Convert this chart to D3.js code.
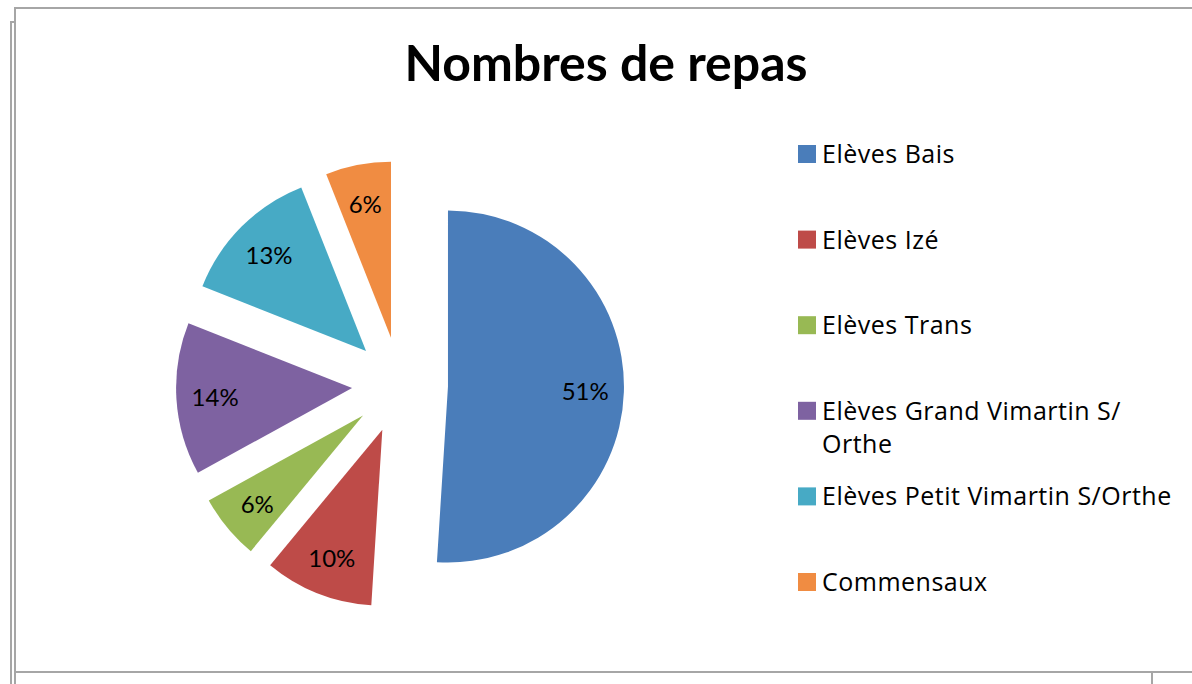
<!DOCTYPE html>
<html>
<head>
<meta charset="utf-8">
<script src="https://cdn.jsdelivr.net/npm/d3@7"></script>
<style>
  html, body { margin: 0; padding: 0; background: #fff; }
  svg { display: block; font-family: Lato, "Open Sans", sans-serif; }
</style>
</head>
<body>
<svg id="chart" width="1192" height="684"></svg>
<script>
// ─── DATA ─────────────────────────────────────────────────────────────────────
const title = 'Nombres de repas';
const categories = [
  'Elèves Bais',
  'Elèves Izé',
  'Elèves Trans',
  'Elèves Grand Vimartin S/\nOrthe',
  'Elèves Petit Vimartin S/Orthe',
  'Commensaux',
];
const values = [51, 10, 6, 14, 13, 6];
const colors = ['#4a7dba', '#be4b48', '#98b954', '#7e62a1', '#47aac5', '#f08c42'];
// ──────────────────────────────────────────────────────────────────────────────

const svg = d3.select('#chart');

// frame, drawn like the copied Excel chart area
const frame = svg.append('g').attr('fill', 'none').attr('stroke', '#a6a6a6').attr('stroke-width', 2);
frame.append('path').attr('d', 'M15,684 V8 H1192');
frame.append('path').attr('d', 'M15,672 H1192');
frame.append('path').attr('d', 'M11,684 V22 H15');
frame.append('path').attr('d', 'M1152,672 V684');

svg.append('text')
  .attr('x', 606)
  .attr('y', 81)
  .attr('text-anchor', 'middle')
  .attr('font-size', 50)
  .attr('font-weight', 700)
  .attr('fill', '#000')
  .text(title);

// ─── PIE ──────────────────────────────────────────────────────────────────────
const cx = 400, cy = 385, radius = 176, explode = 48;

const pie = d3.pie().sort(null).value((d) => d.value);
const arc = d3.arc().innerRadius(0).outerRadius(radius);
const data = categories.map((c, i) => ({ label: c, value: values[i], color: colors[i] }));
const arcs = pie(data);
const total = d3.sum(values);

const mid = (a) => (a.startAngle + a.endAngle) / 2;
const offset = (a, dist) => [Math.sin(mid(a)) * dist, -Math.cos(mid(a)) * dist];

const pieG = svg.append('g').attr('transform', `translate(${cx},${cy})`);

const slice = pieG.selectAll('g.slice')
  .data(arcs)
  .join('g')
  .attr('class', 'slice')
  .attr('transform', (d) => `translate(${offset(d, explode)})`);

slice.append('path')
  .attr('d', arc)
  .attr('fill', (d) => d.data.color);

slice.append('text')
  .attr('transform', (d) => `translate(${offset(d, radius * 0.78)})`)
  .attr('text-anchor', 'middle')
  .attr('dy', '0.4em')
  .attr('font-size', 24)
  .attr('fill', '#000')
  .text((d) => `${d3.format('.0f')((d.value / total) * 100)}%`);

// ─── LEGEND ───────────────────────────────────────────────────────────────────
const ly = d3.scaleLinear().domain([0, categories.length - 1]).range([154, 582]);

const legend = svg.append('g')
  .selectAll('g')
  .data(data)
  .join('g')
  .attr('transform', (d, i) => `translate(798,${ly(i)})`);

legend.append('rect')
  .attr('x', 0)
  .attr('y', -9)
  .attr('width', 18)
  .attr('height', 18)
  .attr('fill', (d) => d.color);

legend.append('text')
  .attr('font-family', '"Open Sans", sans-serif')
  .attr('font-size', 25)
  .attr('letter-spacing', 0.5)
  .attr('fill', '#000')
  .selectAll('tspan')
  .data((d) => d.label.split('\n'))
  .join('tspan')
  .attr('x', 24)
  .attr('y', (d, i) => i * 33)
  .attr('dy', '0.36em')
  .text((d) => d);
</script>
</body>
</html>
